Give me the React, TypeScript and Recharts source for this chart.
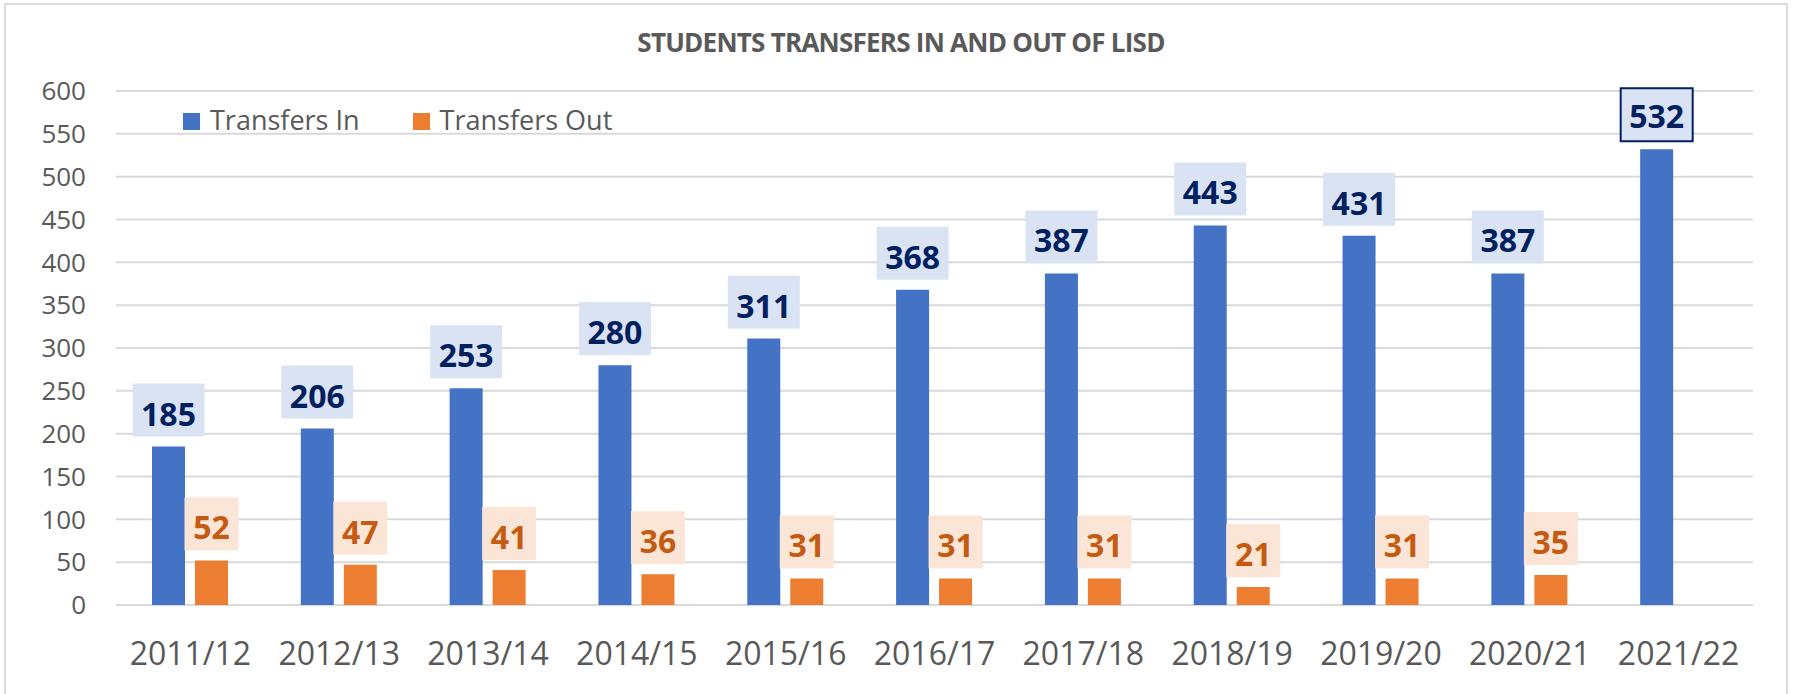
import React from 'react';
import { BarChart, Bar, XAxis, YAxis, CartesianGrid, Legend, LabelList } from 'recharts';

const chartTitle = 'STUDENTS TRANSFERS IN AND OUT OF LISD';
const categories = ['2011/12', '2012/13', '2013/14', '2014/15', '2015/16', '2016/17', '2017/18', '2018/19', '2019/20', '2020/21', '2021/22'];
const transfersIn = [185, 206, 253, 280, 311, 368, 387, 443, 431, 387, 532];
const transfersOut: (number | null)[] = [52, 47, 41, 36, 31, 31, 31, 21, 31, 35, null];
const yTicks = [0, 50, 100, 150, 200, 250, 300, 350, 400, 450, 500, 550, 600];
const seriesNames = ['Transfers In', 'Transfers Out'];
const highlightedCategory = '2021/22';

const data = categories.map((category, i) => ({
  category,
  transfersIn: transfersIn[i],
  transfersOut: transfersOut[i],
}));

const FONT = '"Open Sans", "Noto Sans", sans-serif';
const GRAY = '#595959';

const makeLabel = (boxFill: string, textColor: string, series: 'in' | 'out') => (props: any) => {
  const { x, y, width, value, index } = props;
  if (value === null || value === undefined) return null;
  const top = Number(y);
  const cx = Number(x) + Number(width) / 2;
  const text = String(value);
  const boxW = text.length * 18 + 18;
  const highlighted = series === 'in' && categories[index] === highlightedCategory;
  return (
    <g>
      <rect
        x={cx - boxW / 2}
        y={top - (highlighted ? 61 : 63)}
        width={boxW}
        height={53}
        fill={boxFill}
        stroke={highlighted ? '#002060' : 'none'}
        strokeWidth={2}
      />
      <text x={cx} y={top - 21} textAnchor="middle" fill={textColor} fontFamily={FONT} fontWeight={700} fontSize={32}>
        {text}
      </text>
    </g>
  );
};

const renderLegend = (props: any) => {
  const payload = props.payload || [];
  return (
    <div style={{ display: 'flex', height: 27 }}>
      {payload.map((p: any, i: number) => (
        <div key={i} style={{ display: 'flex', marginRight: i === 0 ? 53 : 0 }}>
          <span style={{ display: 'inline-block', width: 17, height: 17, background: p.color, marginTop: 7, marginRight: 10 }} />
          <span style={{ fontFamily: FONT, fontSize: 27, lineHeight: '27px', color: GRAY, whiteSpace: 'nowrap' }}>{p.value}</span>
        </div>
      ))}
    </div>
  );
};

export default function App() {
  return (
    <div style={{ position: 'absolute', left: 0, top: 0, width: 1798, height: 694, background: '#fff', overflow: 'hidden' }}>
      <div
        style={{
          position: 'absolute',
          left: 4,
          top: 3,
          width: 1784,
          height: 720,
          border: '2px solid #D9D9D9',
          boxSizing: 'border-box',
        }}
      />
      <div
        style={{
          position: 'absolute',
          left: 901,
          top: 28.6,
          transform: 'translateX(-50%)',
          fontFamily: FONT,
          fontWeight: 700,
          fontSize: 26,
          lineHeight: '26px',
          letterSpacing: -0.75,
          color: GRAY,
          whiteSpace: 'nowrap',
        }}
      >
        {chartTitle}
      </div>
      <BarChart width={1798} height={694} data={data} margin={{ top: 91, right: 45, bottom: 29, left: 0 }} barGap={10}>
        <CartesianGrid horizontal vertical={false} stroke="#D9D9D9" strokeWidth={2} />
        <XAxis
          dataKey="category"
          axisLine={false}
          tickLine={false}
          tickSize={0}
          tickMargin={37}
          interval={0}
          height={60}
          tick={{ fill: GRAY, fontSize: 32, fontFamily: FONT }}
        />
        <YAxis
          domain={[0, 600]}
          ticks={yTicks}
          interval={0}
          axisLine={false}
          tickLine={false}
          tickSize={0}
          tickMargin={30}
          width={116}
          tick={{ fill: GRAY, fontSize: 26, fontFamily: FONT }}
        />
        <Legend
          layout="horizontal"
          verticalAlign="middle"
          align="center"
          content={renderLegend}
          wrapperStyle={{ left: 183, top: 106, width: 600, height: 27 }}
        />
        <Bar dataKey="transfersIn" name={seriesNames[0]} fill="#4472C4" barSize={33} isAnimationActive={false}>
          <LabelList dataKey="transfersIn" content={makeLabel('#DAE3F3', '#002060', 'in')} />
        </Bar>
        <Bar dataKey="transfersOut" name={seriesNames[1]} fill="#ED7D31" barSize={33} isAnimationActive={false}>
          <LabelList dataKey="transfersOut" content={makeLabel('#FBE5D6', '#C55A11', 'out')} />
        </Bar>
      </BarChart>
    </div>
  );
}
